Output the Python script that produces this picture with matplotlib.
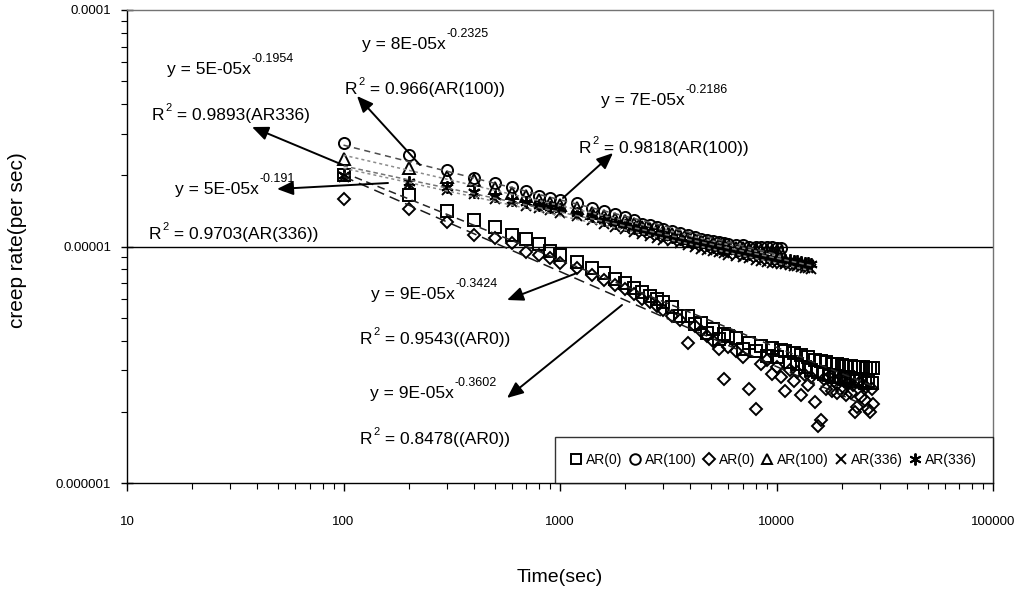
import numpy as np
import matplotlib
matplotlib.use('Agg')
import matplotlib.pyplot as plt
from matplotlib.ticker import FixedLocator, LogLocator, NullFormatter

plt.rcParams['font.family'] = ['Liberation Sans', 'DejaVu Sans']

#%% DATA (creep rate values in units of 1e-6 per sec)
time_ar0 = [100, 200, 300, 400, 500, 600, 700, 800, 900, 1000,
            1200, 1400, 1600, 1800, 2000, 2200, 2400, 2600, 2800, 3000,
            3300, 3600, 3900, 4200, 4500, 4800, 5100, 5400, 5700, 6000,
            6500, 7000, 7500, 8000, 8500, 9000, 9500, 10000, 10500,
            11000, 11500, 12000, 12500, 13000, 13500, 14000, 14500,
            15000, 15500, 16000, 16500, 17000, 17500, 18000, 18500, 19000, 19500, 20000,
            20500, 21000, 21500, 22000, 22500, 23000, 23500, 24000, 24500, 25000,
            25500, 26000, 26500, 27000, 27500, 28000]
time_ar100 = time_ar0[:39]
time_ar336 = time_ar0[:47]

ar0_square = [20.0, 16.5, 14.1, 12.9, 12.1, 11.2, 10.8, 10.2, 9.6, 9.2,
              8.6, 8.1, 7.7, 7.3, 7.0, 6.7, 6.4, 6.2, 6.0, 5.8,
              5.55, 5.1, 5.1, 4.7, 4.75, 4.3, 4.5, 4.05, 4.25, 4.2,
              4.1, 3.7, 3.9, 3.6, 3.8, 3.45, 3.72, 3.4, 3.66,
              3.62, 3.25, 3.55, 3.2, 3.48, 3.1, 3.42, 3.0,
              3.32, 2.95, 3.28, 2.9, 3.24, 2.85, 3.2, 2.8, 3.17, 2.8, 3.14,
              2.75, 3.12, 2.8, 3.11, 2.7, 3.1, 2.75, 3.09, 2.7, 3.08,
              2.65, 3.07, 2.7, 3.06, 2.65, 3.05]
ar0_diamond = [15.9, 14.4, 12.7, 11.2, 10.9, 10.3, 9.5, 9.2, 8.9, 8.5,
               8.1, 7.6, 7.2, 6.9, 6.6, 6.3, 6.0, 5.8, 5.6, 5.4,
               5.1, 4.9, 3.9, 4.6, 4.4, 4.2, 4.0, 3.7, 2.75, 3.75,
               3.6, 3.4, 2.5, 2.05, 3.2, 3.3, 2.9, 3.1, 2.8,
               2.45, 3.0, 2.7, 2.95, 2.35, 2.85, 2.6, 2.8,
               2.2, 1.75, 1.85, 2.75, 2.5, 2.8, 2.45, 2.7, 2.4, 2.75, 2.45,
               2.7, 2.35, 2.65, 2.4, 2.6, 2.0, 2.1, 2.65, 2.3, 2.6,
               2.25, 2.55, 2.05, 2.0, 2.5, 2.15]
ar100_circle = [27.4, 24.4, 21.1, 19.5, 18.6, 17.9, 17.2, 16.4, 16.0, 15.7,
                15.2, 14.5, 14.1, 13.7, 13.3, 12.9, 12.5, 12.3, 12.1, 11.8,
                11.6, 11.4, 11.2, 11.0, 10.8, 10.7, 10.6, 10.45, 10.35, 10.25,
                10.1, 10.1, 10.0, 10.0, 9.95, 9.95, 9.95, 9.85, 9.85]
ar100_triangle = [23.4, 21.4, 19.6, 19.1, 17.6, 16.9, 16.3, 15.7, 15.3, 15.0,
                  14.5, 13.9, 13.5, 13.1, 12.8, 12.4, 12.1, 11.9, 11.7, 11.5,
                  11.3, 11.1, 10.9, 10.7, 10.5, 10.4, 10.3, 10.2, 10.1, 10.0,
                  9.9, 9.85, 9.8, 9.75, 9.7, 9.65, 9.6, 9.55, 9.5]
ar336_cross = [19.6, 18.4, 17.3, 16.6, 15.9, 15.4, 14.9, 14.5, 14.2, 13.9,
               13.4, 12.9, 12.5, 12.1, 11.8, 11.5, 11.3, 11.1, 10.9, 10.7,
               10.5, 10.3, 10.1, 9.95, 9.8, 9.65, 9.55, 9.45, 9.35, 9.25,
               9.1, 9.0, 8.9, 8.8, 8.7, 8.6, 8.55, 8.5, 8.45,
               8.4, 8.35, 8.3, 8.25, 8.2, 8.15, 8.1, 8.05]
ar336_star = [20.0, 18.8, 17.8, 17.0, 16.4, 15.8, 15.4, 15.0, 14.7, 14.4,
              13.9, 13.4, 13.0, 12.6, 12.3, 12.0, 11.8, 11.6, 11.4, 11.2,
              11.0, 10.8, 10.6, 10.4, 10.2, 10.1, 10.0, 9.9, 9.8, 9.7,
              9.55, 9.4, 9.3, 9.2, 9.1, 9.0, 8.95, 8.9, 8.85,
              8.8, 8.75, 8.7, 8.65, 8.6, 8.55, 8.5, 8.45]

x_ticks = [10, 100, 1000, 10000, 100000]
x_ticklabels = ['10', '100', '1000', '10000', '100000']
y_ticks = [1e-6, 1e-5, 1e-4]
y_ticklabels = ['0.000001', '0.00001', '0.0001']

#%% SERIES: (label, time, rate, marker, size, trend dash, trend colour)
series = [
    ('AR(0)', time_ar0, ar0_square, 's', 8, (0, (5, 3)), '0.15'),
    ('AR(100)', time_ar100, ar100_circle, 'o', 8, (0, (4, 3)), '0.3'),
    ('AR(0)', time_ar0, ar0_diamond, 'D', 6.5, (0, (7, 4)), '0.1'),
    ('AR(100)', time_ar100, ar100_triangle, '^', 8, (0, (2, 2)), '0.55'),
    ('AR(336)', time_ar336, ar336_cross, 'x', 7.5, (0, (2, 2)), '0.55'),
    ('AR(336)', time_ar336, ar336_star, (6, 2, 0), 9, (0, (3, 2)), '0.45'),
]

# equation and R2 labels: (text, superscript, rest, left x px, baseline y px)
notes = [
    ('y = 5E-05x', '-0.1954', '', 167, 74),
    ('R', '2', ' = 0.9893(AR336)', 152, 120),
    ('y = 8E-05x', '-0.2325', '', 362, 49),
    ('R', '2', ' = 0.966(AR(100))', 345, 94),
    ('y = 7E-05x', '-0.2186', '', 601, 105),
    ('R', '2', ' = 0.9818(AR(100))', 579, 153),
    ('y = 5E-05x', '-0.191', '', 175, 194),
    ('R', '2', ' = 0.9703(AR(336))', 149, 239),
    ('y = 9E-05x', '-0.3424', '', 371, 299),
    ('R', '2', ' = 0.9543((AR0))', 360, 344),
    ('y = 9E-05x', '-0.3602', '', 370, 398),
    ('R', '2', ' = 0.8478((AR0))', 360, 444),
]
# arrows: (tail x, tail y, head x, head y) in px
arrows = [
    (343, 165, 252, 127),
    (420, 165, 357, 96),
    (388, 183, 277, 189),
    (563, 198, 613, 153),
    (577, 273, 507, 300),
    (622, 305, 507, 398),
]

W, H = 1022, 599
def fx(px):
    return px / W
def fy(py):
    return 1 - py / H

#%% PLOT
fig = plt.figure(figsize=(W / 100, H / 100), dpi=100)
ax = fig.add_axes([fx(127), fy(483), (993 - 127) / W, (483 - 10) / H])
ax.set_xscale('log')
ax.set_yscale('log')

handles = []
for label, t, r, mk, ms, ls, lc in series:
    t = np.array(t, dtype=float)
    r = np.array(r) * 1e-6
    # power trendline fitted in log-log space, like the spreadsheet
    b, a = np.polyfit(np.log10(t), np.log10(r), 1)
    tt = np.array([t[0], t[-1]])
    ax.plot(tt, 10 ** a * tt ** b, linestyle=ls, color=lc, lw=1.1, zorder=3)
    h, = ax.plot(t, r, linestyle='none', marker=mk, ms=ms, mfc='none',
                 mec='black', mew=1.4, label=label, zorder=2)
    handles.append(h)

ax.set_xlim(10, 100000)
ax.set_ylim(1e-6, 1e-4)
ax.xaxis.set_major_locator(FixedLocator(x_ticks))
ax.set_xticklabels(x_ticklabels)
ax.xaxis.set_minor_locator(LogLocator(base=10, subs=range(2, 10)))
ax.xaxis.set_minor_formatter(NullFormatter())
ax.yaxis.set_major_locator(FixedLocator(y_ticks))
ax.set_yticklabels(y_ticklabels)
ax.yaxis.set_minor_locator(LogLocator(base=10, subs=range(2, 10)))
ax.yaxis.set_minor_formatter(NullFormatter())

ax.tick_params(axis='x', which='major', direction='out', length=6, width=1, labelsize=9.5, pad=18)
ax.tick_params(axis='x', which='minor', direction='out', length=4, width=0.8)
ax.tick_params(axis='y', which='major', direction='inout', length=9, width=1, labelsize=9.5, pad=7)
ax.tick_params(axis='y', which='minor', direction='out', length=4, width=0.8)

ax.yaxis.grid(True, which='major', color='black', lw=1.0)
gl = ax.yaxis.get_gridlines()
gl[0].set_visible(False)
gl[-1].set_visible(False)

for s in ['top', 'right']:
    ax.spines[s].set_linestyle((0, (2, 1)))
    ax.spines[s].set_color('0.45')
    ax.spines[s].set_linewidth(1.0)
for s in ['left', 'bottom']:
    ax.spines[s].set_color('black')
    ax.spines[s].set_linewidth(1.0)

leg = ax.legend(handles=handles, loc='lower right', ncol=6, frameon=True, fancybox=False,
                edgecolor='black', borderaxespad=0, handlelength=0.8, handletextpad=0.3,
                columnspacing=0.5, fontsize=10, borderpad=1.15, markerscale=0.95)
leg.get_frame().set_linewidth(1.0)

# text with raised superscripts, placed piece by piece
renderer = fig.canvas.get_renderer()
for main, sup, rest, x, y in notes:
    t1 = fig.text(fx(x), fy(y), main, fontsize=12.5, ha='left', va='baseline')
    x_end = t1.get_window_extent(renderer).x1
    raise_px = 12 if sup != '2' else 9
    sup_size = 9 if sup != '2' else 8
    t2 = fig.text((x_end + 1) / W, fy(y - raise_px), sup, fontsize=sup_size,
                  ha='left', va='baseline')
    if rest:
        x_end2 = t2.get_window_extent(renderer).x1
        fig.text(x_end2 / W, fy(y), rest, fontsize=12.5, ha='left', va='baseline')

for x0, y0, x1, y1 in arrows:
    ax.annotate('', xy=(fx(x1), fy(y1)), xytext=(fx(x0), fy(y0)),
                xycoords='figure fraction', textcoords='figure fraction',
                arrowprops=dict(arrowstyle='-|>,head_length=0.7,head_width=0.3',
                                color='black', lw=1.4, shrinkA=0, shrinkB=0,
                                mutation_scale=14))

fig.text(fx(18), fy(240), 'creep rate(per sec)', rotation=90, fontsize=15, ha='center', va='center')
fig.text(fx(560), fy(578), 'Time(sec)', fontsize=14, ha='center', va='center')

fig.savefig('out.png', dpi=100)
